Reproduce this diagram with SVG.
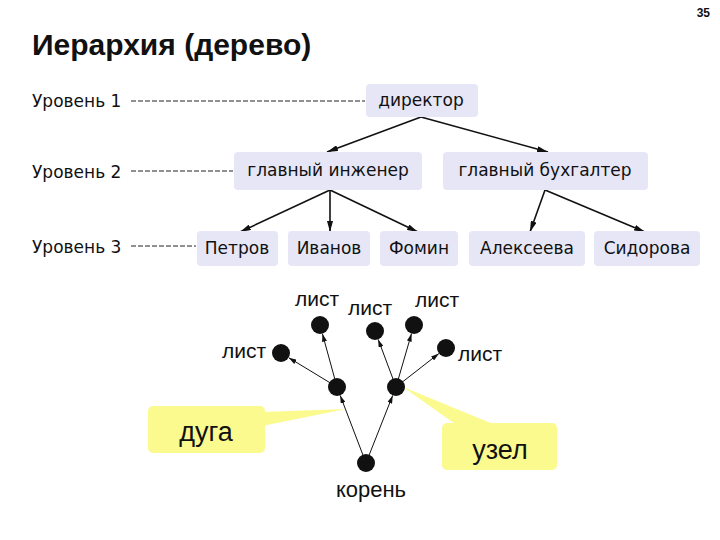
<svg xmlns="http://www.w3.org/2000/svg" width="720" height="540" viewBox="0 0 720 540">
<style>
.box{fill:#E6E6F7;}
.bt{font-family:"DejaVu Sans",sans-serif;font-size:17px;fill:#111;text-anchor:middle;}
.lvl{font-family:"DejaVu Sans",sans-serif;font-size:17px;fill:#111;}
.dash{stroke:#222;stroke-width:1;stroke-dasharray:5,2;fill:none;}
.arr{stroke:#111;stroke-width:1.6;fill:none;marker-end:url(#ah);}
.tarr{stroke:#111;stroke-width:1;fill:none;marker-end:url(#ah2);}
.dot{fill:#111;}
.lt{font-family:"Liberation Sans",Arial,sans-serif;font-size:21px;fill:#111;}
.yel{fill:#FAFA8E;}
.yt{font-family:"Liberation Sans",Arial,sans-serif;font-size:27px;fill:#111;text-anchor:middle;}
</style>
<defs>
<marker id="ah" markerUnits="userSpaceOnUse" markerWidth="11" markerHeight="6" refX="11" refY="3" orient="auto"><path d="M0,0 L11,3 L0,6 z" fill="#111"/></marker>
<marker id="ah2" markerUnits="userSpaceOnUse" markerWidth="8" markerHeight="5" refX="8" refY="2.5" orient="auto"><path d="M0,0 L8,2.5 L0,5 z" fill="#111"/></marker>
</defs>
<rect width="720" height="540" fill="#fff"/>
<text x="710" y="17" font-family="Liberation Sans,Arial,sans-serif" font-size="12" font-weight="bold" text-anchor="end" fill="#111">35</text>
<text x="32" y="55" font-family="Liberation Sans,Arial,sans-serif" font-size="30" font-weight="bold" fill="#111">Иерархия (дерево)</text>

<g id="levels">
<text class="lvl" x="32" y="107">Уровень 1</text>
<text class="lvl" x="32" y="178">Уровень 2</text>
<text class="lvl" x="32" y="253">Уровень 3</text>
<line class="dash" x1="131" y1="101" x2="365" y2="101"/>
<line class="dash" x1="131" y1="171" x2="233" y2="171"/>
<line class="dash" x1="131" y1="246" x2="196" y2="246"/>
</g>

<g id="connectors">
<line class="arr" x1="421" y1="117" x2="327" y2="152"/>
<line class="arr" x1="421" y1="117" x2="548" y2="152"/>
<line class="arr" x1="330" y1="190" x2="240" y2="232"/>
<line class="arr" x1="330" y1="190" x2="330" y2="232"/>
<line class="arr" x1="330" y1="190" x2="418" y2="232"/>
<line class="arr" x1="545" y1="190" x2="530" y2="232"/>
<line class="arr" x1="545" y1="190" x2="645" y2="232"/>
<line class="tarr" x1="366" y1="463" x2="340.2" y2="395.4"/>
<line class="tarr" x1="366" y1="463" x2="392.7" y2="395.4"/>
<line class="tarr" x1="337" y1="387" x2="322.4" y2="333.7"/>
<line class="tarr" x1="337" y1="387" x2="288.7" y2="357.7"/>
<line class="tarr" x1="396" y1="387" x2="378.2" y2="339.4"/>
<line class="tarr" x1="396" y1="387" x2="411.5" y2="333.6"/>
<line class="tarr" x1="396" y1="387" x2="438.9" y2="353.5"/>
</g>

<g id="n-director"><rect class="box" x="366" y="84" width="112" height="33" rx="4"/><text class="bt" x="421" y="106">директор</text></g>
<g id="n-gi"><rect class="box" x="234" y="152" width="188" height="38" rx="4"/><text class="bt" x="328" y="176">главный инженер</text></g>
<g id="n-gb"><rect class="box" x="443" y="152" width="205" height="38" rx="4"/><text class="bt" x="545" y="176">главный бухгалтер</text></g>
<g id="n-petrov"><rect class="box" x="197" y="231" width="81" height="35" rx="4"/><text class="bt" x="237" y="254">Петров</text></g>
<g id="n-ivanov"><rect class="box" x="288" y="231" width="82" height="35" rx="4"/><text class="bt" x="329" y="254">Иванов</text></g>
<g id="n-fomin"><rect class="box" x="380" y="231" width="78" height="35" rx="4"/><text class="bt" x="419" y="254">Фомин</text></g>
<g id="n-alekseeva"><rect class="box" x="469" y="231" width="116" height="35" rx="4"/><text class="bt" x="527" y="254">Алексеева</text></g>
<g id="n-sidorova"><rect class="box" x="594" y="231" width="106" height="35" rx="4"/><text class="bt" x="647" y="254">Сидорова</text></g>

<g id="callout-duga">
<polygon class="yel" points="262,412 262,426 346,409"/>
<rect class="yel" x="148" y="406" width="117" height="47" rx="5"/>
<text class="yt" x="206" y="441">дуга</text>
</g>
<g id="callout-uzel">
<polygon class="yel" points="403,387 498,426 458,426"/>
<rect class="yel" x="442" y="423" width="115" height="47" rx="5"/>
<text class="yt" x="500" y="459">узел</text>
</g>

<g id="t-root"><circle class="dot" cx="366" cy="463" r="9"/><text class="lt" x="371" y="497" style="font-size:22px" text-anchor="middle">корень</text></g>
<g id="t-inner-l"><circle class="dot" cx="337" cy="387" r="9"/></g>
<g id="t-inner-r"><circle class="dot" cx="396" cy="387" r="9"/></g>
<g id="t-leaf1"><circle class="dot" cx="281" cy="353" r="9"/><text class="lt" x="222" y="358">лист</text></g>
<g id="t-leaf2"><circle class="dot" cx="320" cy="325" r="9"/><text class="lt" x="295" y="306">лист</text></g>
<g id="t-leaf3"><circle class="dot" cx="375" cy="331" r="9"/><text class="lt" x="348" y="315">лист</text></g>
<g id="t-leaf4"><circle class="dot" cx="414" cy="325" r="9"/><text class="lt" x="415" y="307">лист</text></g>
<g id="t-leaf5"><circle class="dot" cx="446" cy="348" r="9"/><text class="lt" x="458" y="361">лист</text></g>
</svg>
